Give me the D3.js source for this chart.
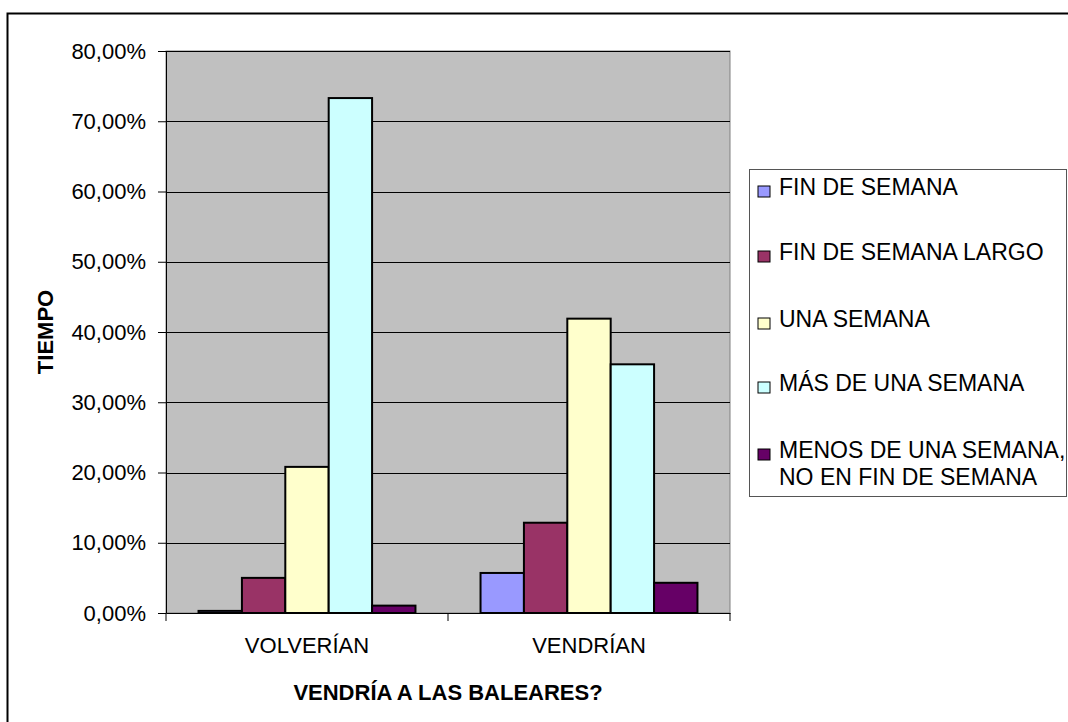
<!DOCTYPE html>
<html>
<head>
<meta charset="utf-8">
<script src="https://cdn.jsdelivr.net/npm/d3@7"></script>
<style>
  body { margin: 0; background: #fff; }
  svg { display: block; font-family: "Liberation Sans", Arial, sans-serif; }
</style>
</head>
<body>
<svg id="chart" width="1068" height="722"></svg>
<script>
// data
const categories = ['VOLVERÍAN', 'VENDRÍAN']
const seriesNames = ['FIN DE SEMANA', 'FIN DE SEMANA LARGO', 'UNA SEMANA', 'MÁS DE UNA SEMANA', 'MENOS DE UNA SEMANA, NO EN FIN DE SEMANA']
const finSemana = [0.3, 5.7]
const finSemanaLargo = [5.0, 12.85]
const unaSemana = [20.8, 41.9]
const masDeUnaSemana = [73.3, 35.4]
const menosDeUnaSemana = [1.05, 4.3]
const yTicks = [0, 10, 20, 30, 40, 50, 60, 70, 80]
const colors = ['#9999FF', '#993366', '#FFFFCC', '#CCFFFF', '#660066']

const seriesValues = [finSemana, finSemanaLargo, unaSemana, masDeUnaSemana, menosDeUnaSemana]

const svg = d3.select('#chart')
const margin = {left: 166, top: 51, right: 730, bottom: 613}
const fs = 22

// outer frame
svg.append('rect')
  .attr('x', 7.5).attr('y', 13.5)
  .attr('width', 1100).attr('height', 800)
  .attr('fill', '#fff').attr('stroke', '#000').attr('stroke-width', 2)

const x = d3.scaleBand().domain(categories).range([margin.left, margin.right])
const inner = d3.scaleBand().domain(d3.range(seriesNames.length))
  .range([0, x.bandwidth()]).paddingInner(0).paddingOuter(0.75)
const y = d3.scaleLinear().domain([0, 80]).range([margin.bottom, margin.top])

// plot area
svg.append('rect')
  .attr('x', margin.left).attr('y', margin.top)
  .attr('width', margin.right - margin.left).attr('height', margin.bottom - margin.top)
  .attr('fill', '#C0C0C0').attr('stroke', '#808080').attr('stroke-width', 1)

// gridlines
svg.append('g').selectAll('line')
  .data(yTicks.filter(d => d > 0))
  .join('line')
    .attr('x1', margin.left).attr('x2', margin.right)
    .attr('y1', d => Math.round(y(d)) + 0.5).attr('y2', d => Math.round(y(d)) + 0.5)
    .attr('stroke', '#000').attr('stroke-width', 1)

// bars
const rows = []
categories.forEach((c, ci) => {
  seriesValues.forEach((vals, si) => rows.push({cat: c, s: si, v: vals[ci]}))
})
svg.append('g').selectAll('rect')
  .data(rows)
  .join('rect')
    .attr('x', d => x(d.cat) + inner(d.s))
    .attr('y', d => y(d.v))
    .attr('width', inner.bandwidth())
    .attr('height', d => y(0) - y(d.v))
    .attr('fill', d => colors[d.s])
    .attr('stroke', '#000').attr('stroke-width', 2)

// y axis
const yAxis = svg.append('g')
  .attr('transform', `translate(${margin.left},0)`)
  .call(d3.axisLeft(y).tickValues(yTicks).tickSize(8).tickSizeOuter(0)
    .tickFormat(d => d3.format('.2f')(d).replace('.', ',') + '%'))
yAxis.attr('font-family', null)
yAxis.select('.domain').attr('stroke', '#000')
yAxis.selectAll('text').attr('font-size', fs).attr('fill', '#000').attr('x', -20)

// x axis
const xAxis = svg.append('g')
  .attr('transform', `translate(0,${margin.bottom})`)
  .call(d3.axisBottom(x).tickSize(0).tickSizeOuter(0))
xAxis.attr('font-family', null)
xAxis.select('.domain').attr('stroke', '#000')
xAxis.selectAll('text').attr('font-size', fs).attr('fill', '#000').attr('dy', 0).attr('y', 40)
xAxis.selectAll('line.sep')
  .data([margin.left, x('VENDRÍAN'), margin.right])
  .join('line').attr('class', 'sep')
    .attr('x1', d => d).attr('x2', d => d)
    .attr('y1', 0).attr('y2', 8)
    .attr('stroke', '#000')

// axis titles
svg.append('text')
  .attr('x', (margin.left + margin.right) / 2).attr('y', 700)
  .attr('text-anchor', 'middle').attr('font-weight', 'bold').attr('font-size', fs)
  .text('VENDRÍA A LAS BALEARES?')
svg.append('text')
  .attr('transform', `translate(53,${(margin.top + margin.bottom) / 2}) rotate(-90)`)
  .attr('text-anchor', 'middle').attr('font-weight', 'bold').attr('font-size', fs)
  .text('TIEMPO')

// legend
const legend = svg.append('g')
legend.append('rect')
  .attr('x', 749.5).attr('y', 169.5).attr('width', 317).attr('height', 327)
  .attr('fill', '#fff').attr('stroke', '#555').attr('stroke-width', 1)
const legendY = [195, 260, 327, 391, 458]
const item = legend.selectAll('g.item')
  .data(seriesNames)
  .join('g').attr('class', 'item')
    .attr('transform', (d, i) => `translate(758,${legendY[i]})`)
item.append('rect')
  .attr('x', 0).attr('y', -9).attr('width', 12).attr('height', 11)
  .attr('fill', (d, i) => colors[i]).attr('stroke', '#000').attr('stroke-width', 1)
item.append('text')
  .attr('x', 21).attr('y', 0).attr('font-size', 23)
  .each(function(d) {
    const parts = d.includes(', ') ? [d.split(', ')[0] + ',', d.split(', ')[1]] : [d]
    d3.select(this).selectAll('tspan').data(parts).join('tspan')
      .attr('x', 21).attr('dy', (p, i) => i === 0 ? 0 : 27).text(p => p)
  })
</script>
</body>
</html>
